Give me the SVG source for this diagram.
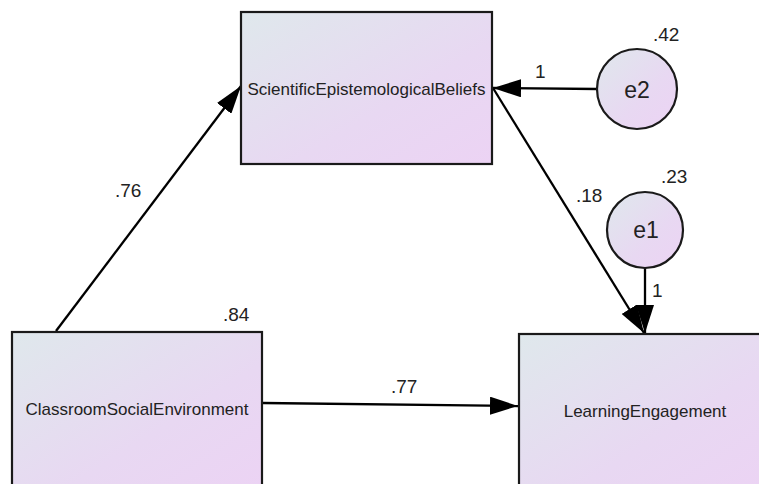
<svg xmlns="http://www.w3.org/2000/svg" width="759" height="484" viewBox="0 0 759 484">
  <style>
    .box { stroke: #1a1a1a; stroke-width: 2.2; }
    .lbl { font-family: "Liberation Sans", Arial, sans-serif; font-size: 17px; fill: #222; text-anchor: middle; }
    .num { font-family: "Liberation Sans", Arial, sans-serif; font-size: 19px; fill: #222; }
    .err { font-family: "Liberation Sans", Arial, sans-serif; font-size: 23px; fill: #222; text-anchor: middle; }
    .path { stroke: #000; stroke-width: 2.3; fill: none; marker-end: url(#head); }
  </style>
  <defs>
    <linearGradient id="fill" x1="0" y1="0" x2="1" y2="1">
      <stop offset="0" stop-color="#dfe8ec"/>
      <stop offset="0.6" stop-color="#e8d8f2"/>
      <stop offset="1" stop-color="#ecd3f4"/>
    </linearGradient>
    <marker id="head" viewBox="0 0 28 18" refX="28" refY="9" markerWidth="28" markerHeight="18" markerUnits="userSpaceOnUse" orient="auto">
      <path d="M0,0 L28,9 L0,18 Z" fill="#000"/>
    </marker>
  </defs>

  <!-- paths and their estimates -->
  <g id="connectors">
    <line class="path" x1="56" y1="331" x2="241" y2="86"/>
    <line class="path" x1="597" y1="89" x2="493" y2="88"/>
    <line class="path" x1="493" y1="88" x2="644" y2="333"/>
    <line class="path" x1="645" y1="268" x2="645" y2="333"/>
    <line class="path" x1="263" y1="403" x2="518" y2="406"/>
    <text class="num" x="115" y="197">.76</text>
    <text class="num" x="535" y="78">1</text>
    <text class="num" x="576" y="202">.18</text>
    <text class="num" x="652" y="297">1</text>
    <text class="num" x="391" y="393">.77</text>
  </g>

  <g id="seb">
    <rect class="box" x="241" y="12" width="251" height="152" fill="url(#fill)"/>
    <text class="lbl" x="366.5" y="95">ScientificEpistemologicalBeliefs</text>
  </g>

  <g id="e2">
    <circle class="box" cx="637" cy="89" r="40" fill="url(#fill)"/>
    <text class="err" x="637" y="98">e2</text>
    <text class="num" x="653" y="41">.42</text>
  </g>

  <g id="e1">
    <circle class="box" cx="645" cy="230" r="38" fill="url(#fill)"/>
    <text class="err" x="646" y="238">e1</text>
    <text class="num" x="661" y="183">.23</text>
  </g>

  <g id="cse">
    <rect class="box" x="12" y="332" width="250" height="160" fill="url(#fill)"/>
    <text class="lbl" x="137" y="415">ClassroomSocialEnvironment</text>
    <text class="num" x="223" y="321">.84</text>
  </g>

  <g id="le">
    <rect class="box" x="519" y="334" width="250" height="160" fill="url(#fill)"/>
    <text class="lbl" x="645" y="417">LearningEngagement</text>
  </g>
</svg>
